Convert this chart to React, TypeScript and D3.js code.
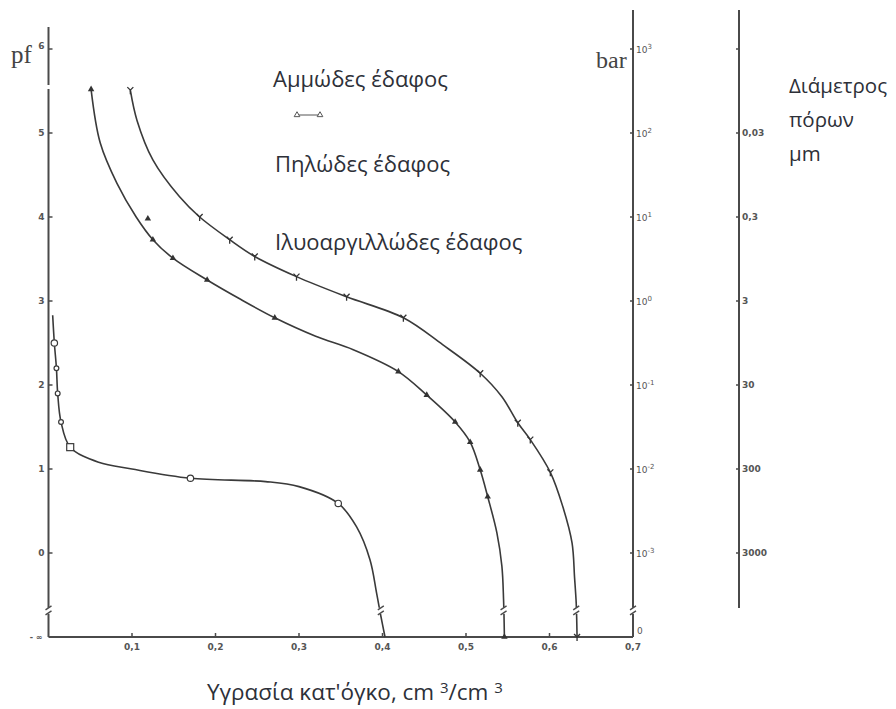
import React from "react";
import * as d3 from "d3";

// ---- data ----
const pfTicks = [-1, 0, 1, 2, 3, 4, 5, 6];
const pfTickLabels = ["- ∞", "0", "1", "2", "3", "4", "5", "6"];
const thetaTicks = [0.1, 0.2, 0.3, 0.4, 0.5, 0.6, 0.7];
const thetaTickLabels = ["0,1", "0,2", "0,3", "0,4", "0,5", "0,6", "0,7"];
const barTicks = [6, 5, 4, 3, 2, 1, 0];
const barExps = ["3", "2", "1", "0", "-1", "-2", "-3"];
const poreTicks = [6, 5, 4, 3, 2, 1, 0];
const poreLabels = ["", "0,03", "0,3", "3", "30", "300", "3000"];

const sandy: [number, number][] = [
  [0.005, 2.83], [0.007, 2.5], [0.0095, 2.2], [0.011, 1.9], [0.015, 1.56], [0.026, 1.26],
  [0.06, 1.08], [0.1, 1.0], [0.17, 0.89], [0.26, 0.85], [0.3, 0.79], [0.347, 0.59],
  [0.369, 0.31], [0.385, -0.08], [0.393, -0.48], [0.398, -0.75], [0.403, -1],
];
const loam: [number, number][] = [
  [0.051, 5.52], [0.062, 4.88], [0.082, 4.4], [0.105, 4.0], [0.125, 3.73], [0.149, 3.51],
  [0.19, 3.25], [0.23, 3.02], [0.271, 2.8], [0.32, 2.58], [0.365, 2.42], [0.419, 2.16],
  [0.453, 1.88], [0.487, 1.56], [0.505, 1.32], [0.517, 0.99], [0.526, 0.67], [0.537, 0.24],
  [0.543, -0.16], [0.545, -0.56], [0.546, -1],
];
const clayLoam: [number, number][] = [
  [0.098, 5.51], [0.106, 5.15], [0.125, 4.68], [0.157, 4.24], [0.181, 4.0], [0.217, 3.73],
  [0.247, 3.53], [0.297, 3.29], [0.357, 3.05], [0.425, 2.8], [0.472, 2.48], [0.517, 2.14],
  [0.543, 1.86], [0.562, 1.55], [0.577, 1.35], [0.601, 0.96], [0.616, 0.55], [0.627, 0.12],
  [0.63, -0.29], [0.632, -0.6], [0.633, -1],
];

const sandyCircles: [number, number][] = [
  [0.007, 2.5], [0.0095, 2.2], [0.011, 1.9], [0.015, 1.56], [0.17, 0.89], [0.347, 0.59],
];
const sandySquares: [number, number][] = [[0.026, 1.26]];
const loamTriangles: [number, number][] = [
  [0.051, 5.52], [0.119, 3.98], [0.125, 3.73], [0.149, 3.51], [0.19, 3.25], [0.271, 2.8],
  [0.419, 2.16], [0.453, 1.88], [0.487, 1.56], [0.505, 1.32], [0.517, 0.99], [0.526, 0.67], [0.546, -1],
];
const clayTicks: [number, number][] = [
  [0.098, 5.51], [0.181, 4.0], [0.217, 3.73], [0.247, 3.53], [0.297, 3.29], [0.357, 3.05],
  [0.425, 2.8], [0.517, 2.14], [0.562, 1.55], [0.577, 1.35], [0.601, 0.96], [0.633, -1],
];
const breakPf = -0.7;

const legendLabels = ["Αμμώδες έδαφος", "Πηλώδες έδαφος", "Ιλυοαργιλλώδες έδαφος"];
const poreTitle = ["Διάμετρος", "πόρων", "μm"];

// ---- layout ----
const W = 896, H = 709;
const x = d3.scaleLinear().domain([0, 0.7]).range([48.5, 633]);
const y = d3.scaleLinear().domain([-1, 6]).range([637, 49]);
const AX = "#4a4a4a";
const TXT = "#2d3038";
const tickFont = "DejaVu Sans";

const line = d3.line<[number, number]>().x(d => x(d[0])).y(d => y(d[1])).curve(d3.curveCatmullRom.alpha(0.5));

function BreakMark({ cx, cy }: { cx: number; cy: number }) {
  return (
    <g stroke={AX} strokeWidth={1.4} fill="none">
      <path d={`M${cx - 3},${cy - 2} L${cx + 3},${cy - 6}`} />
      <path d={`M${cx - 3},${cy + 3} L${cx + 3},${cy - 1}`} />
    </g>
  );
}

export default function App() {
  const barX = x(0.7);
  const poreX = 739;
  return (
    <svg width={W} height={H} style={{ display: "block", position: "absolute", left: 0, top: 0 }}>
      <rect width={W} height={H} fill="#fff" />
      {/* axes */}
      <g stroke={AX} strokeWidth={2}>
        <line x1={x(0)} x2={x(0)} y1={27} y2={85} />
        <line x1={x(0)} x2={x(0)} y1={89} y2={y(-1)} />
        <line x1={x(0)} x2={barX} y1={y(-1)} y2={y(-1)} />
        <line x1={barX} x2={barX} y1={10} y2={y(-1)} />
        <line x1={poreX} x2={poreX} y1={10} y2={608} />
      </g>
      <rect x={x(0) - 3} y={y(breakPf) - 4} width={6} height={6} fill="#fff" />
      <BreakMark cx={x(0)} cy={y(breakPf)} />
      <rect x={barX - 3} y={y(breakPf) - 4} width={6} height={6} fill="#fff" />
      <BreakMark cx={barX} cy={y(breakPf)} />

      {/* left ticks */}
      {pfTicks.map((t, i) => (
        <g key={"pf" + i}>
          {t > -1 && <line x1={x(0)} x2={x(0) + 4} y1={y(t)} y2={y(t)} stroke={AX} strokeWidth={1.5} />}
          <text x={i === 0 ? x(0) - 6 : x(0) - 4} y={y(t) + (i === 7 ? 0 : 3)} fontSize={i === 0 ? 8 : 9} fontFamily={tickFont} fontWeight="bold" fill="#555" textAnchor="end">
            {pfTickLabels[i]}
          </text>
        </g>
      ))}
      {/* x ticks */}
      {thetaTicks.map((t, i) => (
        <g key={"th" + i}>
          <line x1={x(t)} x2={x(t)} y1={y(-1)} y2={y(-1) - 4} stroke={AX} strokeWidth={1.5} />
          <text x={x(t)} y={y(-1) + 13} fontSize={9} fontFamily={tickFont} fontWeight="bold" fill="#555" textAnchor="middle">
            {thetaTickLabels[i]}
          </text>
        </g>
      ))}
      {/* bar axis ticks */}
      {barTicks.map((t, i) => (
        <g key={"bar" + i}>
          <line x1={barX - 3} x2={barX} y1={y(t)} y2={y(t)} stroke={AX} strokeWidth={1.5} />
          <text x={barX + 3} y={y(t) + 4} fontSize={9} fontFamily={tickFont} fill="#555">
            10<tspan dy={-4} fontSize={7}>{barExps[i]}</tspan>
          </text>
        </g>
      ))}
      <text x={barX + 4} y={y(-1) - 3} fontSize={9} fontFamily={tickFont} fill="#555">0</text>
      {/* pore axis ticks */}
      {poreTicks.map((t, i) => (
        <g key={"po" + i}>
          <line x1={poreX - 3} x2={poreX} y1={y(t)} y2={y(t)} stroke={AX} strokeWidth={1.5} />
          <text x={poreX + 3} y={y(t) + 3} fontSize={9} fontFamily={tickFont} fontWeight="bold" fill="#555">
            {poreLabels[i]}
          </text>
        </g>
      ))}

      {/* curves */}
      {[sandy, loam, clayLoam].map((s, i) => (
        <path key={"c" + i} d={line(s) || ""} fill="none" stroke="#3a3a3a" strokeWidth={1.6} />
      ))}
      {[sandy, loam, clayLoam].map((s, i) => {
        const last = s[s.length - 2];
        return (
          <g key={"b" + i}>
            <rect x={x(last[0]) - 3} y={y(breakPf) - 4} width={6} height={6} fill="#fff" />
            <BreakMark cx={x(last[0])} cy={y(breakPf)} />
          </g>
        );
      })}

      {/* markers */}
      {sandyCircles.map((d, i) => (
        <circle key={"sc" + i} cx={x(d[0])} cy={y(d[1])} r={i === 0 || i >= 4 ? 3.2 : 2.4} fill="#fff" stroke="#3a3a3a" strokeWidth={1.2} />
      ))}
      {sandySquares.map((d, i) => (
        <rect key={"ss" + i} x={x(d[0]) - 3.5} y={y(d[1]) - 3.5} width={7} height={7} fill="#fff" stroke="#3a3a3a" strokeWidth={1.2} />
      ))}
      {loamTriangles.map((d, i) => (
        <path key={"lt" + i} d={d3.symbol(d3.symbolTriangle, 18)() || ""} transform={`translate(${x(d[0])},${y(d[1])})`} fill="#333" />
      ))}
      {clayTicks.map((d, i) => (
        <path key={"ct" + i} d="M0,0 L0,4 M0,0 L-3,-3 M0,0 L3,-3" transform={`translate(${x(d[0])},${y(d[1])})`} stroke="#333" strokeWidth={1.3} fill="none" />
      ))}

      {/* axis labels */}
      <text x={11} y={63} fontSize={25} fontFamily="Liberation Serif" fill="#444">pf</text>
      <text x={596} y={68} fontSize={24} fontFamily="Liberation Serif" fill="#444">bar</text>

      {/* legend */}
      <text x={273} y={87} fontSize={22} fontFamily="Open Sans" fill={TXT}>{legendLabels[0]}</text>
      <g stroke="#555" strokeWidth={1} fill="#fff">
        <line x1={297} x2={320} y1={115} y2={115} />
        <path d={d3.symbol(d3.symbolTriangle, 14)() || ""} transform="translate(297,115)" />
        <path d={d3.symbol(d3.symbolTriangle, 14)() || ""} transform="translate(320,115)" />
      </g>
      <text x={275} y={172} fontSize={22} fontFamily="Open Sans" fill={TXT}>{legendLabels[1]}</text>
      <text x={275} y={250} fontSize={22} fontFamily="Open Sans" fill={TXT}>{legendLabels[2]}</text>

      {poreTitle.map((s, i) => (
        <text key={"pt" + i} x={789} y={93 + i * 34} fontSize={20.5} fontFamily="Open Sans" fill={TXT}>{s}</text>
      ))}

      <text x={207} y={700} fontSize={22.5} fontFamily="Open Sans" fill={TXT}>
        Υγρασία κατ'όγκο, cm <tspan dy={-7} fontSize={15}>3</tspan><tspan dy={7}>/cm </tspan><tspan dy={-7} fontSize={15}>3</tspan>
      </text>
    </svg>
  );
}
